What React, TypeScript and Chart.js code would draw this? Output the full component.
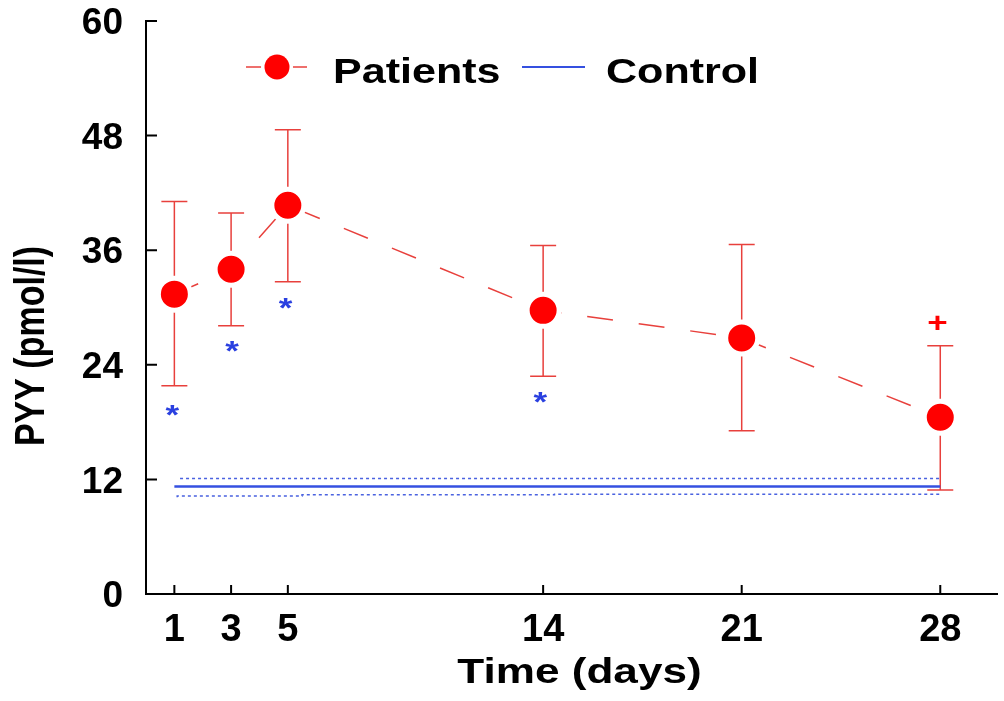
import { useEffect, useRef } from "react";
import { Chart, registerables } from "chart.js";

Chart.register(...registerables);

// ---------- data ----------
const days = [1, 3, 5, 14, 21, 28];
const patientMean = [31.4, 34.0, 40.7, 29.7, 26.8, 18.5];
const patientUpper = [41.1, 39.9, 48.6, 36.5, 36.6, 26.0];
const patientLower = [21.8, 28.1, 32.7, 22.8, 17.1, 10.9];

const controlDays = [1, 28];
const controlMean = [11.25, 11.25];
const controlUpperDays = [1.2, 28];
const controlUpper = [12.1, 12.1];
const controlLowerDays = [1.1, 5.5, 14.4, 23.5, 28];
const controlLower = [10.13, 10.27, 10.38, 10.44, 10.44];

const xTicks = [1, 3, 5, 14, 21, 28];
const yTicks = [0, 12, 24, 36, 48, 60];

const starDays = [0.93, 3.03, 4.92, 13.9];
const starValues = [19.2, 25.9, 30.4, 20.6];
const plusDays = [27.9];
const plusValues = [28.4];

const legendLabels = ["Patients", "Control"];
const xTitle = "Time (days)";
const yTitle = "PYY (pmol/l)";

// ---------- styles ----------
const FONT = "'Liberation Sans', Arial, sans-serif";
const RED = "#ff0000";
const RED_LINE = "#e8403c";
const BLUE = "#3550e0";
const BLUE_DOT = "#4a62e0";

function centeredText(ctx: CanvasRenderingContext2D, text: string, x: number, y: number, sx: number) {
  ctx.save();
  ctx.translate(x, y);
  ctx.scale(sx, 1);
  ctx.textAlign = "center";
  ctx.textBaseline = "alphabetic";
  const m = ctx.measureText(text);
  const off = (m.actualBoundingBoxAscent - m.actualBoundingBoxDescent) / 2;
  ctx.fillText(text, 0, off);
  ctx.restore();
}

const overlay = {
  id: "overlay",
  beforeDatasetsDraw(chart: any) {
    const ctx: CanvasRenderingContext2D = chart.ctx;
    const xs = chart.scales.x;
    const ys = chart.scales.y;
    ctx.save();
    ctx.strokeStyle = RED_LINE;
    ctx.lineWidth = 1.5;
    for (let i = 0; i < days.length; i++) {
      const x = xs.getPixelForValue(days[i]);
      const yt = ys.getPixelForValue(patientUpper[i]);
      const yb = ys.getPixelForValue(patientLower[i]);
      ctx.beginPath();
      ctx.moveTo(x, yt);
      ctx.lineTo(x, yb);
      ctx.moveTo(x - 13, yt);
      ctx.lineTo(x + 13, yt);
      ctx.moveTo(x - 13, yb);
      ctx.lineTo(x + 13, yb);
      ctx.stroke();
    }
    ctx.restore();
  },
  afterDraw(chart: any) {
    const ctx: CanvasRenderingContext2D = chart.ctx;
    const xs = chart.scales.x;
    const ys = chart.scales.y;
    const area = chart.chartArea;
    ctx.save();
    // inward tick marks
    ctx.strokeStyle = "#000";
    ctx.lineWidth = 2;
    ctx.beginPath();
    for (const v of yTicks) {
      const y = ys.getPixelForValue(v);
      ctx.moveTo(area.left, y);
      ctx.lineTo(area.left + 11, y);
    }
    for (const v of xTicks) {
      const x = xs.getPixelForValue(v);
      ctx.moveTo(x, area.bottom);
      ctx.lineTo(x, area.bottom - 9);
    }
    ctx.stroke();

    // significance marks
    ctx.fillStyle = "#2a40e0";
    ctx.font = `bold 28px ${FONT}`;
    for (let i = 0; i < starDays.length; i++) {
      centeredText(ctx, "*", xs.getPixelForValue(starDays[i]), ys.getPixelForValue(starValues[i]), 1.25);
    }
    ctx.fillStyle = RED;
    for (let i = 0; i < plusDays.length; i++) {
      centeredText(ctx, "+", xs.getPixelForValue(plusDays[i]), ys.getPixelForValue(plusValues[i]), 1.25);
    }

    // legend
    const ly = 67;
    ctx.strokeStyle = RED_LINE;
    ctx.lineWidth = 1.5;
    ctx.beginPath();
    ctx.moveTo(246, ly);
    ctx.lineTo(307, ly);
    ctx.stroke();
    ctx.beginPath();
    ctx.arc(277, ly, 16, 0, Math.PI * 2);
    ctx.fillStyle = "#fff";
    ctx.fill();
    ctx.beginPath();
    ctx.arc(277, ly, 12.5, 0, Math.PI * 2);
    ctx.fillStyle = RED;
    ctx.fill();
    ctx.strokeStyle = BLUE;
    ctx.lineWidth = 2;
    ctx.beginPath();
    ctx.moveTo(522, ly);
    ctx.lineTo(585, ly);
    ctx.stroke();

    ctx.fillStyle = "#000";
    ctx.font = `bold 35px ${FONT}`;
    ctx.textBaseline = "alphabetic";
    ctx.textAlign = "left";
    const drawLeft = (t: string, x: number, y: number, sx: number) => {
      ctx.save();
      ctx.translate(x, y);
      ctx.scale(sx, 1);
      ctx.fillText(t, 0, 0);
      ctx.restore();
    };
    drawLeft(legendLabels[0], 333, 83, 1.23);
    drawLeft(legendLabels[1], 606, 83, 1.23);

    // x title
    ctx.save();
    ctx.translate((area.left + area.right) / 2 + 8, 683);
    ctx.scale(1.26, 1);
    ctx.textAlign = "center";
    ctx.fillText(xTitle, 0, 0);
    ctx.restore();

    // y title
    ctx.save();
    ctx.font = `bold 34px ${FONT}`;
    ctx.translate(44, 346);
    ctx.rotate(-Math.PI / 2);
    ctx.scale(1, 1.25);
    ctx.textAlign = "center";
    ctx.fillText(yTitle, 0, 0);
    ctx.restore();

    ctx.restore();
  },
};

export default function App() {
  const ref = useRef<HTMLCanvasElement | null>(null);

  useEffect(() => {
    if (!ref.current) return;
    const chart = new Chart(ref.current, {
      type: "line",
      data: {
        datasets: [
          {
            label: "Control upper",
            data: controlUpperDays.map((d, i) => ({ x: d, y: controlUpper[i] })),
            borderColor: BLUE_DOT,
            borderWidth: 1.5,
            borderDash: [3, 3],
            pointRadius: 0,
            fill: false,
          },
          {
            label: "Control lower",
            data: controlLowerDays.map((d, i) => ({ x: d, y: controlLower[i] })),
            borderColor: BLUE_DOT,
            borderWidth: 1.5,
            borderDash: [3, 3],
            pointRadius: 0,
            stepped: "after",
            fill: false,
          },
          {
            label: legendLabels[1],
            data: controlDays.map((d, i) => ({ x: d, y: controlMean[i] })),
            borderColor: BLUE,
            borderWidth: 2.5,
            pointRadius: 0,
            fill: false,
          },
          {
            label: legendLabels[0],
            data: days.map((d, i) => ({ x: d, y: patientMean[i] })),
            borderColor: RED_LINE,
            borderWidth: 1.5,
            borderDash: [26, 26],
            pointRadius: 16,
            pointBorderWidth: 5,
            pointBorderColor: "#ffffff",
            pointBackgroundColor: RED,
            fill: false,
          },
        ],
      },
      options: {
        animation: false,
        responsive: false,
        devicePixelRatio: 1,
        events: [],
        layout: { autoPadding: false, padding: { top: 21, right: 7, left: 0, bottom: 0 } },
        plugins: { legend: { display: false }, tooltip: { enabled: false }, title: { display: false } },
        scales: {
          x: {
            type: "linear",
            min: 0,
            max: 30,
            afterFit: (s: any) => {
              s.height = 107;
              s.paddingLeft = 0;
              s.paddingRight = 0;
            },
            afterBuildTicks: (s: any) => {
              s.ticks = xTicks.map((v) => ({ value: v }));
            },
            grid: { display: false, drawTicks: false },
            border: { display: true, color: "#000", width: 2 },
            ticks: {
              color: "#000",
              font: { family: FONT, size: 38, weight: "bold" },
              padding: 14,
              maxRotation: 0,
              autoSkip: false,
            },
          },
          y: {
            type: "linear",
            min: 0,
            max: 60,
            afterFit: (s: any) => {
              s.width = 146;
              s.paddingTop = 0;
              s.paddingBottom = 0;
            },
            afterBuildTicks: (s: any) => {
              s.ticks = yTicks.map((v) => ({ value: v }));
            },
            grid: { display: false, drawTicks: false },
            border: { display: true, color: "#000", width: 2 },
            ticks: {
              color: "#000",
              font: { family: FONT, size: 37, weight: "bold" },
              padding: 23,
              labelOffset: 3,
            },
          },
        },
      },
      plugins: [overlay],
    } as any);
    return () => chart.destroy();
  }, []);

  return (
    <div style={{ position: "absolute", left: 0, top: 0, width: 1004, height: 701, background: "#fff" }}>
      <canvas ref={ref} width={1004} height={701} style={{ display: "block", width: 1004, height: 701 }} />
    </div>
  );
}
